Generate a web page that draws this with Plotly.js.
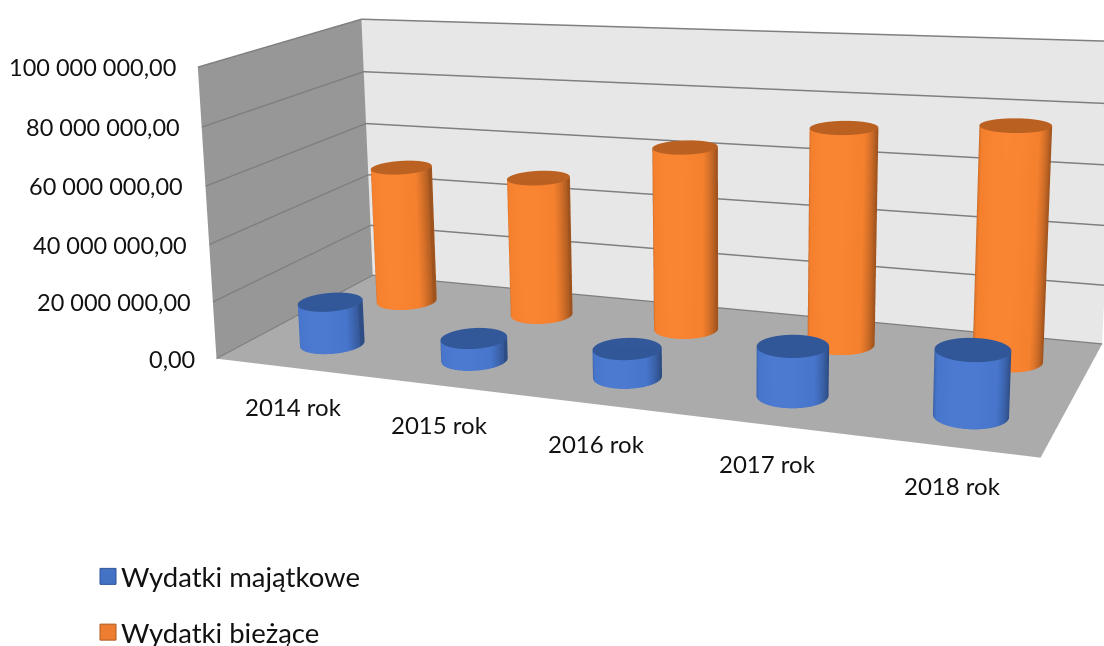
<!DOCTYPE html>
<html><head><meta charset="utf-8">
<script src="https://cdn.plot.ly/plotly-3.0.1.min.js"></script>
<style>html,body{margin:0;padding:0;background:#fff;width:1104px;height:646px;overflow:hidden}
#frame{position:absolute;left:0;top:0;width:1104px;height:646px;overflow:hidden}
#chart{position:absolute;left:-303px;top:-597px;width:1408px;height:1657px}</style></head>
<body><div id="frame"><div id="chart"></div></div>
<script>
const categories = ["2014 rok","2015 rok","2016 rok","2017 rok","2018 rok"];
const seriesNames = ["Wydatki majątkowe","Wydatki bieżące"];
const majatkowe = [15000000,7500000,9500000,16000000,20500000];
const biezace = [50500000,50000000,64000000,73500000,77000000];
const tickVals = [0,20000000,40000000,60000000,80000000,100000000];
const tickText = ["0,00","20 000 000,00","40 000 000,00","60 000 000,00","80 000 000,00","100 000 000,00"];

const W=1408, H=1657, LEFT=303, TOP=597, X_MIN=-0.54, X_MAX=4.46;
function cyl(vals, yc, rx, ry, side, cap, name){
  const n=48, x=[],y=[],z=[],i=[],j=[],k=[],fc=[];
  vals.forEach((v,c)=>{
    let b=x.length;
    for(let a=0;a<=n;a++){const t=2*Math.PI*a/n;
      x.push(c+rx*Math.cos(t),c+rx*Math.cos(t));
      y.push(yc+ry*Math.sin(t),yc+ry*Math.sin(t));
      z.push(0,v);}
    for(let a=0;a<n;a++){const p=b+2*a;
      i.push(p,p+1);j.push(p+2,p+2);k.push(p+1,p+3);fc.push(side,side);}
    let m=x.length; x.push(c);y.push(yc);z.push(v);
    for(let a=0;a<=n;a++){const t=2*Math.PI*a/n;
      x.push(c+rx*Math.cos(t));y.push(yc+ry*Math.sin(t));z.push(v);}
    for(let a=0;a<n;a++){i.push(m);j.push(m+1+a);k.push(m+2+a);fc.push(cap);}
  });
  return {type:'mesh3d',name,x,y,z,i,j,k,facecolor:fc,flatshading:false,showlegend:false,showscale:false,hoverinfo:'skip',
    lighting:{ambient:0.65,diffuse:0.8,specular:0.1,roughness:0.7,fresnel:0.05},
    lightposition:{x:-1000,y:-10000,z:1000}};
}
function key(name,color,line,group){
  return {type:'scatter',mode:'markers',name,x:[null],y:[null],legendgroup:group,hoverinfo:'skip',
    marker:{symbol:'square',size:16,color,line:{color:line,width:1}}};
}
const zAnn=tickVals.map((v,i)=>({x:X_MIN,y:0,z:v,text:tickText[i],showarrow:false,xanchor:'right',yanchor:'middle',xshift:-20,yshift:0,font:{size:23.5,color:'#111'}}));
const xAnn=categories.map((t,i)=>({x:i,y:0,z:0,text:t,showarrow:false,xanchor:'center',yanchor:'middle',xshift:2,yshift:-39,font:{size:24,color:'#111'}}));
const data=[cyl(majatkowe,0.5,0.2,0.214,'#4776cc','#2f5597',seriesNames[0]),
            cyl(biezace,1.5,0.2,0.214,'#f5812f','#b85f20',seriesNames[1]),
            key(seriesNames[0],'#4472c4','#2f5597','a'),
            key(seriesNames[1],'#ed7d31','#ae5a21','b')];
const layout={width:W,height:H,margin:{l:0,r:0,t:0,b:0},paper_bgcolor:'#fff',plot_bgcolor:'rgba(0,0,0,0)',
  font:{family:'Lato, sans-serif',size:24,color:'#111'},
  xaxis:{visible:false,domain:[0,0.01]},yaxis:{visible:false,domain:[0,0.01]},
  legend:{x:(81+LEFT)/W,y:1-(552+TOP)/H,xanchor:'left',yanchor:'top',tracegroupgap:17,font:{size:27.5,color:'#111'},bgcolor:'rgba(0,0,0,0)'},
  scene:{domain:{x:[0,1],y:[0,1]},
    aspectmode:'manual',aspectratio:{x:1.1976,y:0.5052,z:0.4425},
    camera:{eye:{x:0.982,y:-2.674,z:0.667},center:{x:-0.3665,y:-0.082,z:-0.047},up:{x:-0.074,y:0.230,z:0.970},projection:{type:'perspective'}},
    xaxis:{type:'linear',range:[X_MIN,X_MAX],tickvals:[0,1,2,3,4],showticklabels:false,showgrid:false,showline:false,zeroline:false,showbackground:true,backgroundcolor:'#979797',title:{text:''},showspikes:false,ticks:''},
    yaxis:{range:[0,2],tickvals:[],showgrid:false,showline:false,zeroline:false,showbackground:true,backgroundcolor:'#e7e7e7',title:{text:''},showspikes:false,showticklabels:false},
    zaxis:{range:[0,100000000],tickvals:tickVals,showticklabels:false,showgrid:true,gridcolor:'#7f7f7f',gridwidth:3,showline:false,zeroline:false,showbackground:true,backgroundcolor:'#ababab',title:{text:''},showspikes:false,ticks:''},
    annotations:zAnn.concat(xAnn)
  }};
Plotly.newPlot('chart',data,layout,{displayModeBar:false}).then(()=>{
  document.querySelectorAll('#chart .legend .legendsymbols').forEach(g=>g.setAttribute('transform','translate(7,0)'));
});
</script></body></html>
